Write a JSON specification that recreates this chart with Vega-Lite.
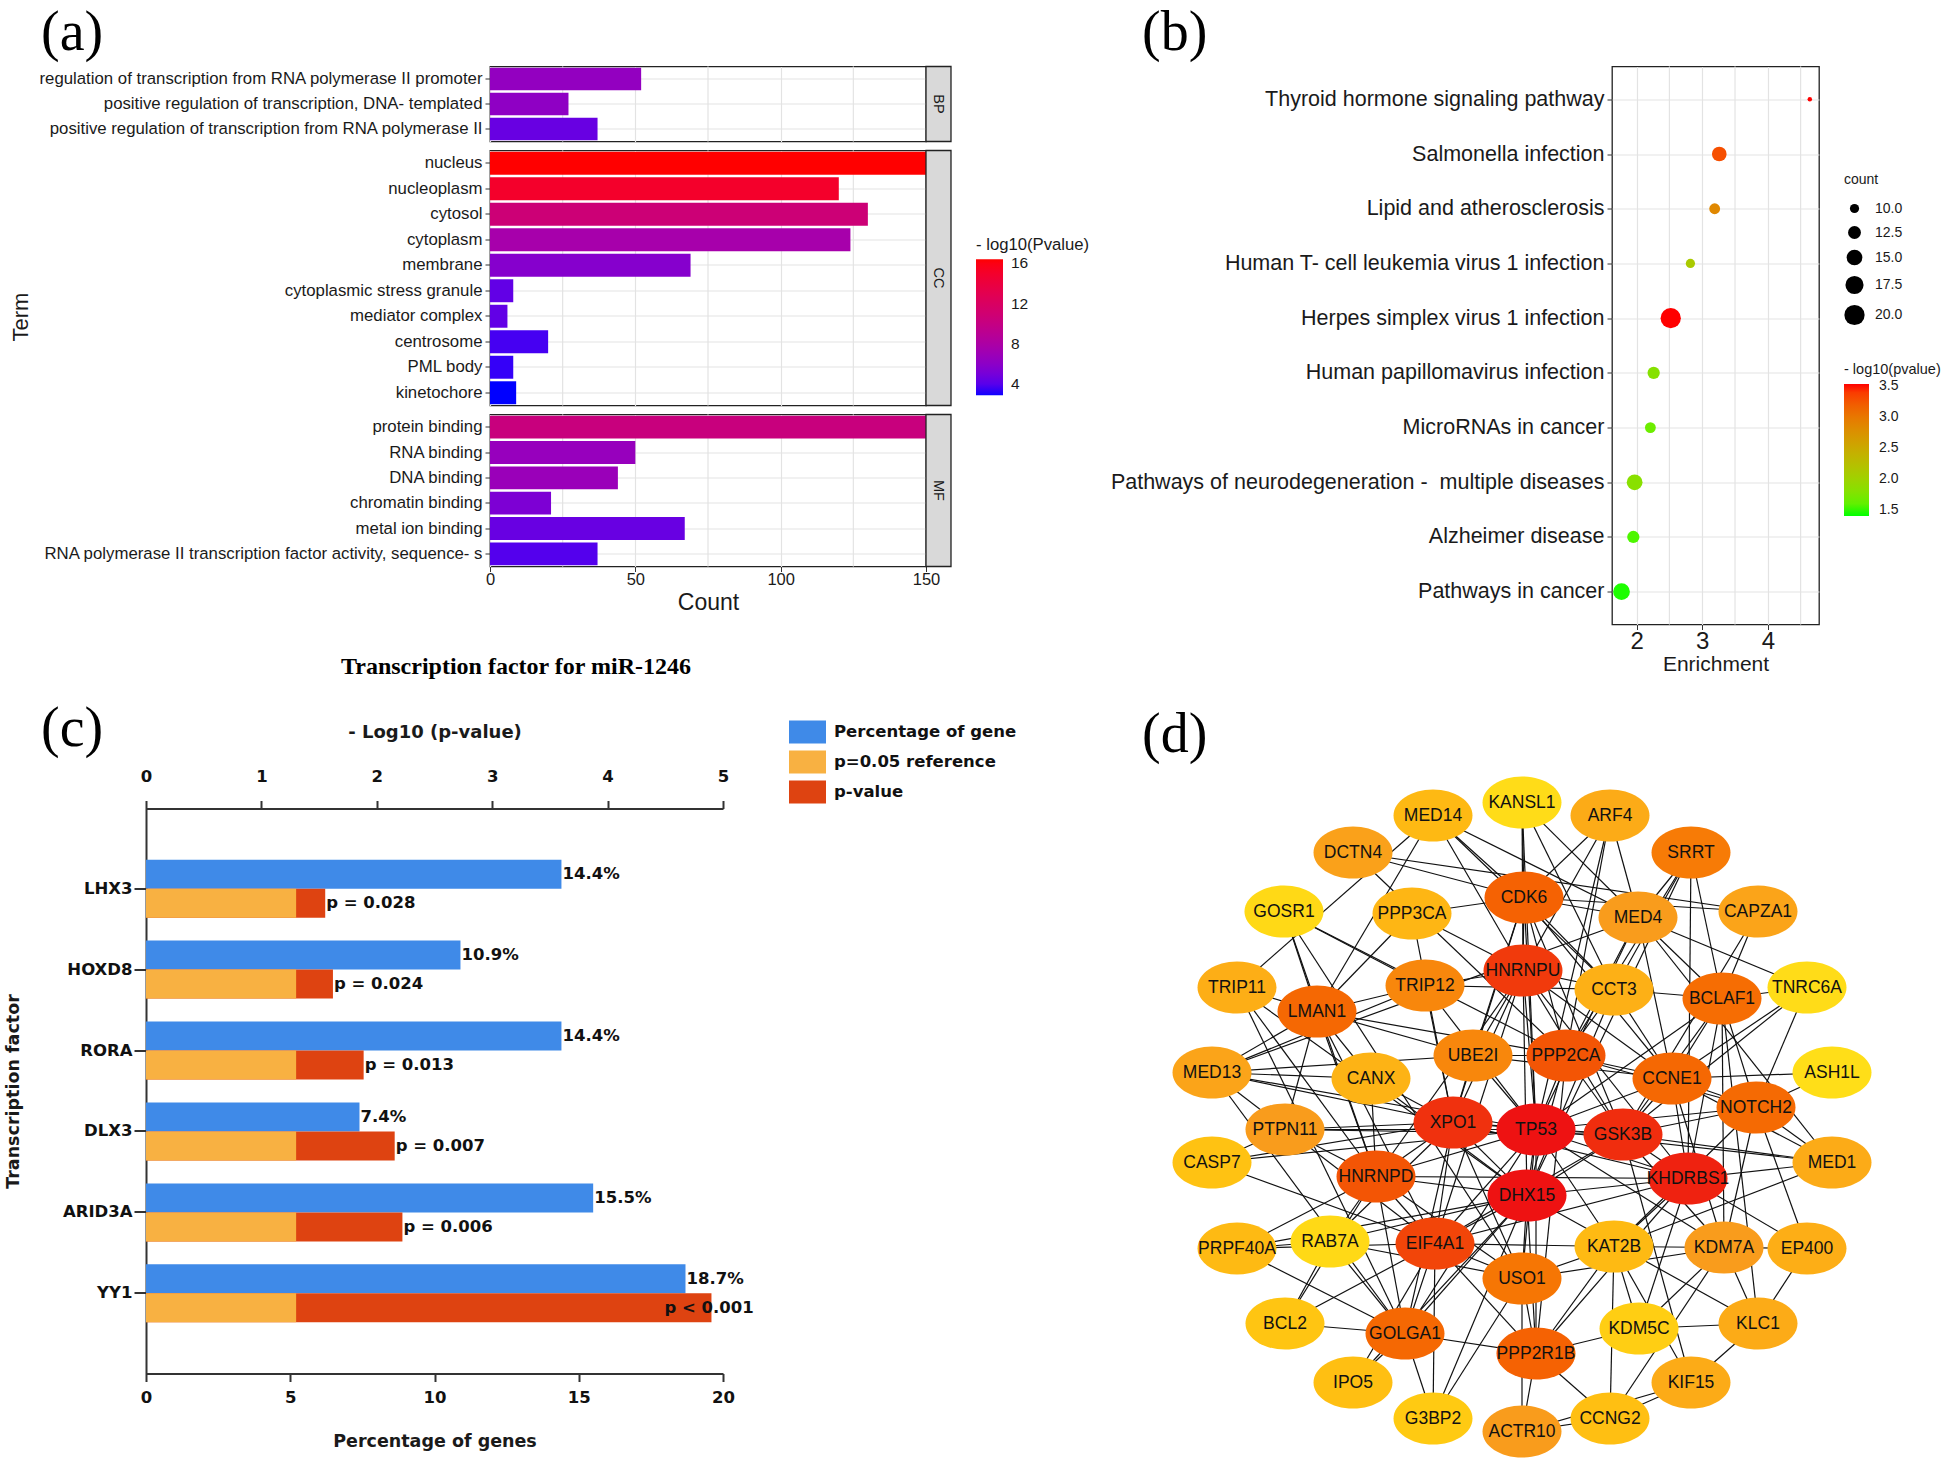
{
"$schema": "https://vega.github.io/schema/vega-lite/v6.json",
"padding": {"left": 4, "top": 3.5, "right": 0, "bottom": 0},
"background": "white",
"config": {
  "font": "Liberation Sans",
  "view": {"stroke": null},
  "axis": {"labelColor": "#1a1a1a", "titleColor": "#1a1a1a", "tickColor": "#333333", "domainColor": "#333333", "gridColor": "#e3e3e3", "gridWidth": 1.2, "titleFontWeight": "normal", "labelFlush": false, "labelOverlap": false},
  "legend": {"labelColor": "#1a1a1a", "titleColor": "#1a1a1a", "titleFontWeight": "normal"},
  "title": {"color": "#000000"}
},
"datasets": {
  "go": [
    {"cat": "BP", "term": "regulation of transcription from RNA polymerase II promoter", "count": 52, "logp": 6.4},
    {"cat": "BP", "term": "positive regulation of transcription, DNA- templated", "count": 27, "logp": 6.2},
    {"cat": "BP", "term": "positive regulation of transcription from RNA polymerase II", "count": 37, "logp": 4.5},
    {"cat": "CC", "term": "nucleus", "count": 150, "logp": 16.4},
    {"cat": "CC", "term": "nucleoplasm", "count": 120, "logp": 15.0},
    {"cat": "CC", "term": "cytosol", "count": 130, "logp": 10.7},
    {"cat": "CC", "term": "cytoplasm", "count": 124, "logp": 7.6},
    {"cat": "CC", "term": "membrane", "count": 69, "logp": 5.7},
    {"cat": "CC", "term": "cytoplasmic stress granule", "count": 8, "logp": 4.3},
    {"cat": "CC", "term": "mediator complex", "count": 6, "logp": 4.3},
    {"cat": "CC", "term": "centrosome", "count": 20, "logp": 3.6},
    {"cat": "CC", "term": "PML body", "count": 8, "logp": 3.3},
    {"cat": "CC", "term": "kinetochore", "count": 9, "logp": 2.9},
    {"cat": "MF", "term": "protein binding", "count": 150, "logp": 10.3},
    {"cat": "MF", "term": "RNA binding", "count": 50, "logp": 6.6},
    {"cat": "MF", "term": "DNA binding", "count": 44, "logp": 6.8},
    {"cat": "MF", "term": "chromatin binding", "count": 21, "logp": 5.3},
    {"cat": "MF", "term": "metal ion binding", "count": 67, "logp": 4.5},
    {"cat": "MF", "term": "RNA polymerase II transcription factor activity, sequence- s", "count": 37, "logp": 3.9}
  ],
  "kegg": [
    {"path": "Thyroid hormone signaling pathway", "enrich": 4.64, "count": 8, "logp": 3.54},
    {"path": "Salmonella infection", "enrich": 3.26, "count": 14, "logp": 3.3},
    {"path": "Lipid and atherosclerosis", "enrich": 3.19, "count": 11, "logp": 2.85},
    {"path": "Human T- cell leukemia virus 1 infection", "enrich": 2.82, "count": 10, "logp": 2.1},
    {"path": "Herpes simplex virus 1 infection", "enrich": 2.52, "count": 20, "logp": 3.54},
    {"path": "Human papillomavirus infection", "enrich": 2.26, "count": 12, "logp": 1.8},
    {"path": "MicroRNAs in cancer", "enrich": 2.21, "count": 11, "logp": 1.65},
    {"path": "Pathways of neurodegeneration -\u00a0 multiple diseases", "enrich": 1.97, "count": 15, "logp": 1.82},
    {"path": "Alzheimer disease", "enrich": 1.95, "count": 12, "logp": 1.52},
    {"path": "Pathways in cancer", "enrich": 1.77, "count": 16, "logp": 1.42}
  ],
  "tf": [
    {"tf": "LHX3", "pct": 14.4, "pctlab": "14.4%", "logp": 1.553, "plab": "p = 0.028"},
    {"tf": "HOXD8", "pct": 10.9, "pctlab": "10.9%", "logp": 1.62, "plab": "p = 0.024"},
    {"tf": "RORA", "pct": 14.4, "pctlab": "14.4%", "logp": 1.886, "plab": "p = 0.013"},
    {"tf": "DLX3", "pct": 7.4, "pctlab": "7.4%", "logp": 2.155, "plab": "p = 0.007"},
    {"tf": "ARID3A", "pct": 15.5, "pctlab": "15.5%", "logp": 2.222, "plab": "p = 0.006"},
    {"tf": "YY1", "pct": 18.7, "pctlab": "18.7%", "logp": 4.9, "plab": "p < 0.001"}
  ],
  "nodes": [
    {"id": "KANSL1", "lx": 422, "ly": 62, "score": 1.3},
    {"id": "MED14", "lx": 333, "ly": 75, "score": 3.6},
    {"id": "ARF4", "lx": 510, "ly": 75, "score": 4.5},
    {"id": "DCTN4", "lx": 253, "ly": 112, "score": 5.2},
    {"id": "SRRT", "lx": 591, "ly": 112, "score": 7.0},
    {"id": "GOSR1", "lx": 184, "ly": 171, "score": 1.5},
    {"id": "PPP3CA", "lx": 312, "ly": 173, "score": 3.8},
    {"id": "CDK6", "lx": 424, "ly": 157, "score": 8.0},
    {"id": "MED4", "lx": 538, "ly": 177, "score": 5.5},
    {"id": "CAPZA1", "lx": 658, "ly": 171, "score": 5.0},
    {"id": "HNRNPU", "lx": 423, "ly": 230, "score": 9.3},
    {"id": "TRIP11", "lx": 137, "ly": 247, "score": 4.3},
    {"id": "LMAN1", "lx": 217, "ly": 271, "score": 7.8},
    {"id": "TRIP12", "lx": 325, "ly": 245, "score": 6.5},
    {"id": "CCT3", "lx": 514, "ly": 249, "score": 4.2},
    {"id": "BCLAF1", "lx": 622, "ly": 258, "score": 7.6},
    {"id": "TNRC6A", "lx": 707, "ly": 247, "score": 1.3},
    {"id": "MED13", "lx": 112, "ly": 332, "score": 5.0},
    {"id": "UBE2I", "lx": 373, "ly": 315, "score": 6.5},
    {"id": "PPP2CA", "lx": 466, "ly": 315, "score": 8.5},
    {"id": "CANX", "lx": 271, "ly": 338, "score": 4.0},
    {"id": "CCNE1", "lx": 572, "ly": 338, "score": 7.8},
    {"id": "ASH1L", "lx": 732, "ly": 332, "score": 1.2},
    {"id": "NOTCH2", "lx": 656, "ly": 367, "score": 7.7},
    {"id": "PTPN11", "lx": 185, "ly": 389, "score": 5.5},
    {"id": "XPO1", "lx": 353, "ly": 382, "score": 9.5},
    {"id": "TP53", "lx": 436, "ly": 389, "score": 10},
    {"id": "GSK3B", "lx": 523, "ly": 394, "score": 9.6},
    {"id": "CASP7", "lx": 112, "ly": 422, "score": 3.0},
    {"id": "MED1", "lx": 732, "ly": 422, "score": 4.5},
    {"id": "HNRNPD", "lx": 276, "ly": 436, "score": 8.5},
    {"id": "KHDRBS1", "lx": 588, "ly": 438, "score": 9.8},
    {"id": "DHX15", "lx": 427, "ly": 455, "score": 10},
    {"id": "PRPF40A", "lx": 137, "ly": 508, "score": 3.5},
    {"id": "RAB7A", "lx": 230, "ly": 501, "score": 1.5},
    {"id": "EIF4A1", "lx": 335, "ly": 503, "score": 9.0},
    {"id": "KAT2B", "lx": 514, "ly": 506, "score": 3.5},
    {"id": "KDM7A", "lx": 624, "ly": 507, "score": 5.5},
    {"id": "EP400", "lx": 707, "ly": 508, "score": 4.3},
    {"id": "USO1", "lx": 422, "ly": 538, "score": 7.2},
    {"id": "BCL2", "lx": 185, "ly": 583, "score": 2.8},
    {"id": "GOLGA1", "lx": 305, "ly": 593, "score": 7.8},
    {"id": "PPP2R1B", "lx": 436, "ly": 613, "score": 8.0},
    {"id": "KDM5C", "lx": 539, "ly": 588, "score": 2.2},
    {"id": "KLC1", "lx": 658, "ly": 583, "score": 4.5},
    {"id": "IPO5", "lx": 253, "ly": 642, "score": 3.2},
    {"id": "KIF15", "lx": 591, "ly": 642, "score": 4.5},
    {"id": "G3BP2", "lx": 333, "ly": 678, "score": 2.5},
    {"id": "ACTR10", "lx": 422, "ly": 691, "score": 5.5},
    {"id": "CCNG2", "lx": 510, "ly": 678, "score": 3.2}
  ],
  "edges": [
    {"s": "TP53", "t": "DHX15"}, {"s": "TP53", "t": "GSK3B"}, {"s": "TP53", "t": "KHDRBS1"}, {"s": "TP53", "t": "XPO1"}, {"s": "TP53", "t": "HNRNPU"}, {"s": "TP53", "t": "HNRNPD"}, {"s": "TP53", "t": "EIF4A1"}, {"s": "TP53", "t": "PPP2CA"}, {"s": "TP53", "t": "CDK6"}, {"s": "TP53", "t": "CCNE1"}, {"s": "TP53", "t": "NOTCH2"}, {"s": "TP53", "t": "BCLAF1"}, {"s": "TP53", "t": "UBE2I"}, {"s": "TP53", "t": "CASP7"}, {"s": "TP53", "t": "MED1"}, {"s": "TP53", "t": "MED13"}, {"s": "TP53", "t": "MED4"}, {"s": "TP53", "t": "KAT2B"}, {"s": "TP53", "t": "KDM7A"}, {"s": "TP53", "t": "PTPN11"}, {"s": "TP53", "t": "GOLGA1"}, {"s": "TP53", "t": "PPP2R1B"}, {"s": "TP53", "t": "USO1"}, {"s": "TP53", "t": "TRIP12"},
    {"s": "DHX15", "t": "GSK3B"}, {"s": "DHX15", "t": "KHDRBS1"}, {"s": "DHX15", "t": "XPO1"}, {"s": "DHX15", "t": "HNRNPU"}, {"s": "DHX15", "t": "HNRNPD"}, {"s": "DHX15", "t": "EIF4A1"}, {"s": "DHX15", "t": "PPP2CA"}, {"s": "DHX15", "t": "CCT3"}, {"s": "DHX15", "t": "GOLGA1"}, {"s": "DHX15", "t": "PPP2R1B"}, {"s": "DHX15", "t": "USO1"}, {"s": "DHX15", "t": "RAB7A"}, {"s": "DHX15", "t": "PRPF40A"}, {"s": "DHX15", "t": "KLC1"}, {"s": "DHX15", "t": "TRIP11"}, {"s": "DHX15", "t": "CANX"}, {"s": "DHX15", "t": "IPO5"}, {"s": "DHX15", "t": "G3BP2"}, {"s": "DHX15", "t": "SRRT"},
    {"s": "GSK3B", "t": "KHDRBS1"}, {"s": "GSK3B", "t": "XPO1"}, {"s": "GSK3B", "t": "HNRNPU"}, {"s": "GSK3B", "t": "CDK6"}, {"s": "GSK3B", "t": "CCNE1"}, {"s": "GSK3B", "t": "NOTCH2"}, {"s": "GSK3B", "t": "BCLAF1"}, {"s": "GSK3B", "t": "PPP2CA"}, {"s": "GSK3B", "t": "MED1"}, {"s": "GSK3B", "t": "CAPZA1"}, {"s": "GSK3B", "t": "KDM7A"}, {"s": "GSK3B", "t": "KIF15"}, {"s": "GSK3B", "t": "PTPN11"}, {"s": "GSK3B", "t": "EIF4A1"}, {"s": "GSK3B", "t": "TNRC6A"},
    {"s": "KHDRBS1", "t": "HNRNPU"}, {"s": "KHDRBS1", "t": "HNRNPD"}, {"s": "KHDRBS1", "t": "XPO1"}, {"s": "KHDRBS1", "t": "EIF4A1"}, {"s": "KHDRBS1", "t": "BCLAF1"}, {"s": "KHDRBS1", "t": "MED1"}, {"s": "KHDRBS1", "t": "EP400"}, {"s": "KHDRBS1", "t": "KDM5C"}, {"s": "KHDRBS1", "t": "KAT2B"}, {"s": "KHDRBS1", "t": "CCNE1"}, {"s": "KHDRBS1", "t": "SRRT"}, {"s": "KHDRBS1", "t": "PPP2R1B"},
    {"s": "XPO1", "t": "HNRNPU"}, {"s": "XPO1", "t": "HNRNPD"}, {"s": "XPO1", "t": "EIF4A1"}, {"s": "XPO1", "t": "CDK6"}, {"s": "XPO1", "t": "PTPN11"}, {"s": "XPO1", "t": "MED13"}, {"s": "XPO1", "t": "CANX"}, {"s": "XPO1", "t": "UBE2I"}, {"s": "XPO1", "t": "GOLGA1"}, {"s": "XPO1", "t": "USO1"}, {"s": "XPO1", "t": "RAB7A"}, {"s": "XPO1", "t": "TRIP12"}, {"s": "XPO1", "t": "CASP7"}, {"s": "XPO1", "t": "PPP3CA"},
    {"s": "HNRNPU", "t": "HNRNPD"}, {"s": "HNRNPU", "t": "CDK6"}, {"s": "HNRNPU", "t": "KANSL1"}, {"s": "HNRNPU", "t": "MED14"}, {"s": "HNRNPU", "t": "ARF4"}, {"s": "HNRNPU", "t": "TRIP12"}, {"s": "HNRNPU", "t": "PPP3CA"}, {"s": "HNRNPU", "t": "CCT3"}, {"s": "HNRNPU", "t": "CCNE1"}, {"s": "HNRNPU", "t": "EIF4A1"}, {"s": "HNRNPU", "t": "UBE2I"},
    {"s": "HNRNPD", "t": "EIF4A1"}, {"s": "HNRNPD", "t": "PTPN11"}, {"s": "HNRNPD", "t": "LMAN1"}, {"s": "HNRNPD", "t": "CANX"}, {"s": "HNRNPD", "t": "GOLGA1"}, {"s": "HNRNPD", "t": "RAB7A"}, {"s": "HNRNPD", "t": "BCL2"}, {"s": "HNRNPD", "t": "PRPF40A"}, {"s": "HNRNPD", "t": "USO1"}, {"s": "HNRNPD", "t": "TRIP11"}, {"s": "HNRNPD", "t": "GOSR1"},
    {"s": "EIF4A1", "t": "GOLGA1"}, {"s": "EIF4A1", "t": "PPP2R1B"}, {"s": "EIF4A1", "t": "G3BP2"}, {"s": "EIF4A1", "t": "IPO5"}, {"s": "EIF4A1", "t": "USO1"}, {"s": "EIF4A1", "t": "KAT2B"}, {"s": "EIF4A1", "t": "CASP7"}, {"s": "EIF4A1", "t": "MED13"}, {"s": "EIF4A1", "t": "PRPF40A"}, {"s": "EIF4A1", "t": "LMAN1"},
    {"s": "PPP2CA", "t": "PPP2R1B"}, {"s": "PPP2CA", "t": "CDK6"}, {"s": "PPP2CA", "t": "UBE2I"}, {"s": "PPP2CA", "t": "CCT3"}, {"s": "PPP2CA", "t": "MED4"}, {"s": "PPP2CA", "t": "CCNE1"}, {"s": "PPP2CA", "t": "NOTCH2"}, {"s": "PPP2CA", "t": "LMAN1"}, {"s": "PPP2CA", "t": "GOSR1"}, {"s": "PPP2CA", "t": "DCTN4"}, {"s": "PPP2CA", "t": "ARF4"}, {"s": "PPP2CA", "t": "SRRT"},
    {"s": "CDK6", "t": "CCNE1"}, {"s": "CDK6", "t": "MED14"}, {"s": "CDK6", "t": "KANSL1"}, {"s": "CDK6", "t": "ARF4"}, {"s": "CDK6", "t": "PPP3CA"}, {"s": "CDK6", "t": "MED4"}, {"s": "CDK6", "t": "CAPZA1"}, {"s": "CDK6", "t": "DCTN4"}, {"s": "CDK6", "t": "UBE2I"}, {"s": "CDK6", "t": "CCT3"},
    {"s": "CCNE1", "t": "NOTCH2"}, {"s": "CCNE1", "t": "BCLAF1"}, {"s": "CCNE1", "t": "CCT3"}, {"s": "CCNE1", "t": "MED4"}, {"s": "CCNE1", "t": "MED1"}, {"s": "CCNE1", "t": "KDM7A"}, {"s": "CCNE1", "t": "ASH1L"}, {"s": "CCNE1", "t": "TNRC6A"}, {"s": "CCNE1", "t": "UBE2I"},
    {"s": "LMAN1", "t": "MED13"}, {"s": "LMAN1", "t": "TRIP11"}, {"s": "LMAN1", "t": "GOSR1"}, {"s": "LMAN1", "t": "MED14"}, {"s": "LMAN1", "t": "TRIP12"}, {"s": "LMAN1", "t": "CANX"}, {"s": "LMAN1", "t": "UBE2I"}, {"s": "LMAN1", "t": "PPP3CA"}, {"s": "LMAN1", "t": "PTPN11"},
    {"s": "GOLGA1", "t": "PPP2R1B"}, {"s": "GOLGA1", "t": "BCL2"}, {"s": "GOLGA1", "t": "IPO5"}, {"s": "GOLGA1", "t": "G3BP2"}, {"s": "GOLGA1", "t": "RAB7A"}, {"s": "GOLGA1", "t": "PRPF40A"}, {"s": "GOLGA1", "t": "MED13"}, {"s": "GOLGA1", "t": "TRIP11"},
    {"s": "PPP2R1B", "t": "ACTR10"}, {"s": "PPP2R1B", "t": "CCNG2"}, {"s": "PPP2R1B", "t": "USO1"}, {"s": "PPP2R1B", "t": "KAT2B"}, {"s": "PPP2R1B", "t": "KDM5C"},
    {"s": "NOTCH2", "t": "BCLAF1"}, {"s": "NOTCH2", "t": "MED1"}, {"s": "NOTCH2", "t": "EP400"}, {"s": "NOTCH2", "t": "ASH1L"}, {"s": "NOTCH2", "t": "KDM7A"}, {"s": "NOTCH2", "t": "KAT2B"}, {"s": "NOTCH2", "t": "TNRC6A"},
    {"s": "BCLAF1", "t": "SRRT"}, {"s": "BCLAF1", "t": "MED4"}, {"s": "BCLAF1", "t": "CAPZA1"}, {"s": "BCLAF1", "t": "TNRC6A"}, {"s": "BCLAF1", "t": "CCT3"}, {"s": "BCLAF1", "t": "KDM7A"}, {"s": "BCLAF1", "t": "KLC1"},
    {"s": "USO1", "t": "ACTR10"}, {"s": "USO1", "t": "G3BP2"}, {"s": "USO1", "t": "KAT2B"}, {"s": "USO1", "t": "KDM7A"}, {"s": "USO1", "t": "RAB7A"}, {"s": "USO1", "t": "GOSR1"},
    {"s": "SRRT", "t": "MED4"}, {"s": "SRRT", "t": "CCT3"},
    {"s": "KAT2B", "t": "KDM7A"}, {"s": "KAT2B", "t": "KDM5C"}, {"s": "KAT2B", "t": "CCNG2"}, {"s": "KAT2B", "t": "KIF15"}, {"s": "KAT2B", "t": "MED1"},
    {"s": "KDM7A", "t": "EP400"}, {"s": "KDM7A", "t": "KLC1"}, {"s": "KDM7A", "t": "KDM5C"}, {"s": "KDM7A", "t": "CCNG2"},
    {"s": "MED4", "t": "MED14"}, {"s": "MED4", "t": "MED1"}, {"s": "MED4", "t": "MED13"}, {"s": "MED4", "t": "TNRC6A"}, {"s": "MED4", "t": "KANSL1"},
    {"s": "CCT3", "t": "KANSL1"}, {"s": "CCT3", "t": "MED14"}, {"s": "CCT3", "t": "TRIP12"},
    {"s": "KIF15", "t": "CCNG2"}, {"s": "KIF15", "t": "KLC1"}, {"s": "KIF15", "t": "ACTR10"}, {"s": "ACTR10", "t": "CCNG2"},
    {"s": "DCTN4", "t": "CAPZA1"}, {"s": "TRIP12", "t": "MED13"}, {"s": "UBE2I", "t": "MED13"}, {"s": "TRIP11", "t": "MED14"}, {"s": "GOSR1", "t": "TRIP12"}, {"s": "CANX", "t": "MED13"}, {"s": "PRPF40A", "t": "RAB7A"}, {"s": "KLC1", "t": "EP400"}, {"s": "KDM5C", "t": "KLC1"}, {"s": "CASP7", "t": "PTPN11"}, {"s": "ARF4", "t": "MED4"}, {"s": "KANSL1", "t": "TP53"}, {"s": "ARF4", "t": "TP53"}, {"s": "BCL2", "t": "EIF4A1"}, {"s": "BCL2", "t": "RAB7A"}
  ]
},
"vconcat": [
  {
    "hconcat": [
      {
        "width": 343, "height": 635,
        "data": {"values": []},
        "mark": "point",
        "title": {"text": "(c)", "orient": "bottom", "anchor": "start", "frame": "group", "dx": -105, "offset": 0, "font": "Liberation Serif", "fontSize": 56, "fontWeight": "normal"}
      },
      {
        "vconcat": [
          {
            "width": 436, "height": 75,
            "view": {"stroke": "#222222", "strokeWidth": 1.3},
            "title": {"text": "(a)", "orient": "top", "anchor": "start", "frame": "group", "dx": -449, "offset": 4, "font": "Liberation Serif", "fontSize": 56, "fontWeight": "normal"},
            "layer": [
              {"data": {"values": [{"v": 25}, {"v": 75}, {"v": 125}]}, "mark": {"type": "rule", "color": "#e3e3e3", "strokeWidth": 1.2}, "encoding": {"x": {"field": "v", "type": "quantitative", "scale": {"domain": [0, 150], "nice": false}}}},
              {"data": {"name": "go"}, "transform": [{"filter": "datum.cat === 'BP'"}], "mark": {"type": "bar"},
               "encoding": {
                 "y": {"field": "term", "type": "nominal", "sort": null, "scale": {"paddingInner": 0.1, "paddingOuter": 0.05}, "axis": {"title": null, "labelFontSize": 16.8, "tickSize": 5, "labelPadding": 3, "domain": false, "grid": true, "labelLimit": 700, "bandPosition": 0.5}},
                 "x": {"field": "count", "type": "quantitative", "scale": {"domain": [0, 150], "nice": false}, "axis": {"title": null, "labels": false, "ticks": false, "domain": false, "grid": true, "values": [0, 50, 100, 150]}},
                 "color": {"field": "logp", "type": "quantitative", "scale": {"domain": [2.9, 16.4], "range": ["#0000ff", "#ff0000"], "interpolate": "lab"}, "legend": null}
               }},
              {"data": {"values": [{"lab": "BP"}]}, "mark": {"type": "rect", "fill": "#d9d9d9", "stroke": "#222222", "strokeWidth": 1.3}, "encoding": {"x": {"datum": 150, "type": "quantitative"}, "x2": {"datum": 158.6}}},
              {"data": {"values": [{"lab": "BP"}]}, "mark": {"type": "text", "angle": 90, "fontSize": 14.5, "color": "#1a1a1a"}, "encoding": {"x": {"datum": 154.3, "type": "quantitative"}, "text": {"field": "lab"}}}
            ]
          },
          {
            "width": 436, "height": 255,
            "view": {"stroke": "#222222", "strokeWidth": 1.3},
            "layer": [
              {"data": {"values": [{"v": 25}, {"v": 75}, {"v": 125}]}, "mark": {"type": "rule", "color": "#e3e3e3", "strokeWidth": 1.2}, "encoding": {"x": {"field": "v", "type": "quantitative", "scale": {"domain": [0, 150], "nice": false}}}},
              {"data": {"name": "go"}, "transform": [{"filter": "datum.cat === 'CC'"}], "mark": {"type": "bar"},
               "encoding": {
                 "y": {"field": "term", "type": "nominal", "sort": null, "scale": {"paddingInner": 0.1, "paddingOuter": 0.05}, "axis": {"title": "Term", "titleX": -470, "titleY": 166, "titleAngle": -90, "titleAlign": "center", "titleBaseline": "middle", "titleFontSize": 22, "labelFontSize": 16.8, "tickSize": 5, "labelPadding": 3, "domain": false, "grid": true, "labelLimit": 700, "bandPosition": 0.5}},
                 "x": {"field": "count", "type": "quantitative", "scale": {"domain": [0, 150], "nice": false}, "axis": {"title": null, "labels": false, "ticks": false, "domain": false, "grid": true, "values": [0, 50, 100, 150]}},
                 "color": {"field": "logp", "type": "quantitative", "scale": {"domain": [2.9, 16.4], "range": ["#0000ff", "#ff0000"], "interpolate": "lab"},
                   "legend": {"orient": "none", "legendX": 486, "legendY": 86, "title": "- log10(Pvalue)", "titleFontSize": 16.7, "values": [4, 8, 12, 16], "gradientLength": 136, "gradientThickness": 27, "labelFontSize": 15.5, "labelOffset": 8, "titlePadding": 6, "direction": "vertical"}}
               }},
              {"data": {"values": [{"lab": "CC"}]}, "mark": {"type": "rect", "fill": "#d9d9d9", "stroke": "#222222", "strokeWidth": 1.3}, "encoding": {"x": {"datum": 150, "type": "quantitative"}, "x2": {"datum": 158.6}}},
              {"data": {"values": [{"lab": "CC"}]}, "mark": {"type": "text", "angle": 90, "fontSize": 14.5, "color": "#1a1a1a"}, "encoding": {"x": {"datum": 154.3, "type": "quantitative"}, "text": {"field": "lab"}}}
            ]
          },
          {
            "width": 436, "height": 152,
            "view": {"stroke": "#222222", "strokeWidth": 1.3},
            "layer": [
              {"data": {"values": [{"v": 25}, {"v": 75}, {"v": 125}]}, "mark": {"type": "rule", "color": "#e3e3e3", "strokeWidth": 1.2}, "encoding": {"x": {"field": "v", "type": "quantitative", "scale": {"domain": [0, 150], "nice": false}}}},
              {"data": {"name": "go"}, "transform": [{"filter": "datum.cat === 'MF'"}], "mark": {"type": "bar"},
               "encoding": {
                 "y": {"field": "term", "type": "nominal", "sort": null, "scale": {"paddingInner": 0.1, "paddingOuter": 0.05}, "axis": {"title": null, "labelFontSize": 16.8, "tickSize": 5, "labelPadding": 3, "domain": false, "grid": true, "labelLimit": 700, "bandPosition": 0.5}},
                 "x": {"field": "count", "type": "quantitative", "scale": {"domain": [0, 150], "nice": false}, "axis": {"title": "Count", "titleFontSize": 23, "titleY": 36, "titleBaseline": "middle", "labelFontSize": 16.5, "labelPadding": 0, "tickSize": 5, "domain": false, "grid": true, "values": [0, 50, 100, 150]}},
                 "color": {"field": "logp", "type": "quantitative", "scale": {"domain": [2.9, 16.4], "range": ["#0000ff", "#ff0000"], "interpolate": "lab"}, "legend": null}
               }},
              {"data": {"values": [{"lab": "MF"}]}, "mark": {"type": "rect", "fill": "#d9d9d9", "stroke": "#222222", "strokeWidth": 1.3}, "encoding": {"x": {"datum": 150, "type": "quantitative"}, "x2": {"datum": 158.6}}},
              {"data": {"values": [{"lab": "MF"}]}, "mark": {"type": "text", "angle": 90, "fontSize": 14.5, "color": "#1a1a1a"}, "encoding": {"x": {"datum": 154.3, "type": "quantitative"}, "text": {"field": "lab"}}}
            ]
          }
        ],
        "spacing": 9,
        "bounds": "flush",
        "resolve": {"scale": {"color": "independent"}}
      },
      {
        "width": 1120, "height": 588,
        "data": {"values": []},
        "mark": "point",
        "title": {"text": "Transcription factor for miR-1246", "orient": "bottom", "anchor": "middle", "frame": "group", "dx": -535, "offset": 0, "font": "Liberation Serif", "fontSize": 24, "fontWeight": "bold"}
      },
      {
        "width": 207, "height": 558,
        "view": {"stroke": "#222222", "strokeWidth": 1.3},
        "title": {"text": "(b)", "orient": "top", "anchor": "start", "frame": "group", "dx": -470, "offset": 4, "font": "Liberation Serif", "fontSize": 56, "fontWeight": "normal"},
        "layer": [
          {"data": {"values": [{"v": 2.5}, {"v": 3.5}, {"v": 4.5}]}, "mark": {"type": "rule", "color": "#e3e3e3", "strokeWidth": 1.2}, "encoding": {"x": {"field": "v", "type": "quantitative", "scale": {"domain": [1.625, 4.78], "nice": false, "zero": false}}}},
          {"data": {"name": "kegg"}, "mark": {"type": "circle", "opacity": 1},
           "encoding": {
             "y": {"field": "path", "type": "nominal", "sort": null, "scale": {"padding": 0.6}, "axis": {"title": null, "labelFontSize": 21.5, "tickSize": 5, "labelPadding": 3, "domain": false, "grid": true, "labelLimit": 700}},
             "x": {"field": "enrich", "type": "quantitative", "scale": {"domain": [1.625, 4.78], "nice": false, "zero": false}, "axis": {"title": "Enrichment", "titleFontSize": 21, "titleY": 40, "titleBaseline": "middle", "values": [2, 3, 4], "format": "d", "labelFontSize": 24, "labelPadding": 0, "tickSize": 5, "domain": false, "grid": true}},
             "size": {"field": "count", "type": "quantitative", "scale": {"domain": [8, 20], "range": [20, 410]},
               "legend": {"orient": "none", "legendX": 232, "legendY": 106, "title": "count", "titleFontSize": 14, "labelFontSize": 14, "values": [10, 12.5, 15, 17.5, 20], "format": ".1f", "symbolType": "circle", "symbolFillColor": "#000000", "symbolStrokeWidth": 0, "rowPadding": 10, "labelOffset": 10, "titlePadding": 15,
                 "encode": {"symbols": {"update": {"fill": {"value": "#000000"}, "stroke": {"value": "#000000"}, "opacity": {"value": 1}}}}}},
             "color": {"field": "logp", "type": "quantitative", "scale": {"domain": [1.4, 3.54], "range": ["#00ff00", "#ff0000"], "interpolate": "lab"},
               "legend": {"orient": "none", "legendX": 232, "legendY": 296, "title": "- log10(pvalue)", "titleFontSize": 14.5, "labelFontSize": 14, "values": [1.5, 2, 2.5, 3, 3.5], "format": ".1f", "gradientLength": 132, "gradientThickness": 25, "labelOffset": 10, "titlePadding": 7, "direction": "vertical"}}
           }}
        ]
      }
    ],
    "spacing": 1,
    "bounds": "flush",
    "resolve": {"scale": {"color": "independent", "size": "independent"}}
  },
  {
    "hconcat": [
      {
        "width": 577, "height": 565,
        "data": {"name": "tf"},
        "layer": [
          {"mark": {"type": "bar", "height": 29, "yOffset": -14.5},
           "encoding": {
             "y": {"field": "tf", "type": "nominal", "sort": null, "scale": {"paddingInner": 0, "paddingOuter": 0.49},
               "axis": {"title": "Transcription factor", "titleX": -133, "titleY": 282.5, "titleAngle": -90, "titleAlign": "center", "titleBaseline": "middle", "titleFont": "DejaVu Sans", "titleFontWeight": "bold", "titleFontSize": 17.5, "labelFont": "DejaVu Sans", "labelFontWeight": "bold", "labelFontSize": 16.5, "labelColor": "#111111", "tickSize": 12, "tickWidth": 2, "domainWidth": 2, "labelPadding": 2, "grid": false}},
             "x": {"field": "pct", "type": "quantitative", "scale": {"domain": [0, 20], "nice": false},
               "axis": {"orient": "bottom", "title": "Percentage of genes", "titleY": 68, "titleBaseline": "middle", "titleFont": "DejaVu Sans", "titleFontWeight": "bold", "titleFontSize": 17.5, "values": [0, 5, 10, 15, 20], "labelFont": "DejaVu Sans", "labelFontWeight": "bold", "labelFontSize": 16.5, "labelColor": "#111111", "tickSize": 8, "tickWidth": 2, "domainWidth": 2, "labelPadding": 8, "grid": false}},
             "color": {"datum": "Percentage of gene", "type": "nominal", "scale": {"domain": ["Percentage of gene", "p=0.05 reference", "p-value"], "range": ["#3f8ae8", "#f8b142", "#de4311"]},
               "legend": {"orient": "none", "legendX": 643, "legendY": -95, "title": null, "symbolType": "M-1,-0.62H1V0.62H-1Z", "symbolSize": 1369, "symbolStrokeWidth": 0, "labelFont": "DejaVu Sans", "labelFontWeight": "bold", "labelFontSize": 16.5, "labelColor": "#111111", "labelOffset": 8, "labelLimit": 400, "rowPadding": 0}}
           }},
          {"mark": {"type": "bar", "height": 29, "yOffset": 14.5},
           "encoding": {
             "y": {"field": "tf", "type": "nominal", "sort": null},
             "x": {"field": "logp", "type": "quantitative", "scale": {"domain": [0, 5], "nice": false},
               "axis": {"orient": "top", "title": "- Log10 (p-value)", "titleY": -76, "titleBaseline": "middle", "titleFont": "DejaVu Sans", "titleFontWeight": "bold", "titleFontSize": 18, "values": [0, 1, 2, 3, 4, 5], "labelFont": "DejaVu Sans", "labelFontWeight": "bold", "labelFontSize": 16.5, "labelColor": "#111111", "tickSize": 8, "tickWidth": 2, "domainWidth": 2, "labelPadding": 16, "grid": false}},
             "color": {"datum": "p-value", "type": "nominal"}
           }},
          {"mark": {"type": "bar", "height": 29, "yOffset": 14.5},
           "encoding": {
             "y": {"field": "tf", "type": "nominal", "sort": null},
             "x": {"datum": 1.301, "type": "quantitative", "scale": {"domain": [0, 5], "nice": false}, "axis": null},
             "color": {"datum": "p=0.05 reference", "type": "nominal"}
           }},
          {"mark": {"type": "text", "align": "left", "baseline": "middle", "dx": 1, "yOffset": -14.5, "font": "DejaVu Sans", "fontWeight": "bold", "fontSize": 16.5, "color": "#111111"},
           "encoding": {
             "y": {"field": "tf", "type": "nominal", "sort": null},
             "x": {"field": "pct", "type": "quantitative", "scale": {"domain": [0, 20], "nice": false}, "axis": null},
             "text": {"field": "pctlab"}
           }},
          {"transform": [{"filter": "datum.tf !== 'YY1'"}],
           "mark": {"type": "text", "align": "left", "baseline": "middle", "dx": 1, "yOffset": 14.5, "font": "DejaVu Sans", "fontWeight": "bold", "fontSize": 16.5, "color": "#111111"},
           "encoding": {
             "y": {"field": "tf", "type": "nominal", "sort": null},
             "x": {"field": "logp", "type": "quantitative", "scale": {"domain": [0, 5], "nice": false}, "axis": null},
             "text": {"field": "plab"}
           }},
          {"transform": [{"filter": "datum.tf === 'YY1'"}],
           "mark": {"type": "text", "align": "left", "baseline": "middle", "dx": -47, "yOffset": 14.5, "font": "DejaVu Sans", "fontWeight": "bold", "fontSize": 16.5, "color": "#111111"},
           "encoding": {
             "y": {"field": "tf", "type": "nominal", "sort": null},
             "x": {"field": "logp", "type": "quantitative", "scale": {"domain": [0, 5], "nice": false}, "axis": null},
             "text": {"field": "plab"}
           }}
        ],
        "resolve": {"scale": {"x": "independent"}}
      },
      {
        "width": 750, "height": 651,
        "title": {"text": "(d)", "orient": "top", "anchor": "start", "frame": "group", "dx": -8, "offset": 12.5, "font": "Liberation Serif", "fontSize": 56, "fontWeight": "normal"},
        "layer": [
          {"data": {"name": "edges"},
           "transform": [
             {"lookup": "s", "from": {"data": {"name": "nodes"}, "key": "id", "fields": ["lx", "ly"]}, "as": ["sx", "sy"]},
             {"lookup": "t", "from": {"data": {"name": "nodes"}, "key": "id", "fields": ["lx", "ly"]}, "as": ["tx", "ty"]}
           ],
           "mark": {"type": "rule", "color": "#111111", "strokeWidth": 1.2},
           "encoding": {
             "x": {"field": "sx", "type": "quantitative", "scale": {"domain": [50, 800], "nice": false, "zero": false}, "axis": null},
             "y": {"field": "sy", "type": "quantitative", "scale": {"domain": [68, 719], "nice": false, "zero": false, "reverse": true}, "axis": null},
             "x2": {"field": "tx"},
             "y2": {"field": "ty"}
           }},
          {"data": {"name": "nodes"},
           "mark": {"type": "point", "filled": true, "opacity": 1, "shape": "M-1,0A1,0.66,0,1,1,1,0A1,0.66,0,1,1,-1,0Z", "size": 6241},
           "encoding": {
             "x": {"field": "lx", "type": "quantitative", "scale": {"domain": [50, 800], "nice": false, "zero": false}, "axis": null},
             "y": {"field": "ly", "type": "quantitative", "scale": {"domain": [68, 719], "nice": false, "zero": false, "reverse": true}, "axis": null},
             "color": {"field": "score", "type": "quantitative", "scale": {"domain": [1, 5.5, 10], "range": ["#ffe11a", "#f99c1c", "#ee1212"]}, "legend": null}
           }},
          {"data": {"name": "nodes"},
           "mark": {"type": "text", "fontSize": 17.5, "color": "#111111"},
           "encoding": {
             "x": {"field": "lx", "type": "quantitative", "axis": null},
             "y": {"field": "ly", "type": "quantitative", "axis": null},
             "text": {"field": "id"}
           }}
        ]
      }
    ],
    "spacing": 427,
    "bounds": "flush",
    "resolve": {"scale": {"color": "independent", "size": "independent"}}
  }
],
"spacing": 742,
"bounds": "flush",
"resolve": {"scale": {"color": "independent", "size": "independent"}}
}
